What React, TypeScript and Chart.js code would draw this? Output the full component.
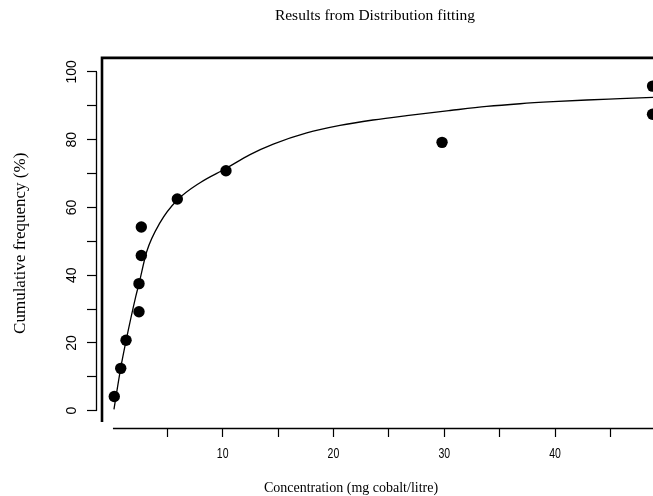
import React, { useEffect, useRef } from 'react';
import { Chart, registerables } from 'chart.js';

Chart.register(...registerables);

// Observed data (concentration, cumulative frequency %)
const OBS_X = [0.22, 0.8, 1.28, 2.45, 2.45, 2.66, 2.66, 5.91, 10.3, 29.8, 48.8, 48.8];
const OBS_Y = [4.2, 12.5, 20.8, 29.2, 37.5, 45.8, 54.2, 62.5, 70.8, 79.2, 87.5, 95.8];

// Fitted distribution curve
const CURVE_X = [0.19, 0.8, 1.28, 2.15, 2.45, 3.15, 4.35, 5.88, 7.96, 10.3, 12.47, 14.57, 17.59, 20.59, 23.57, 26.61, 30.52, 33.83, 36.84, 39.82, 42.86, 45.86, 48.84];
const CURVE_Y = [0.4, 12.6, 20.6, 33.6, 37.5, 47.0, 55.5, 62.1, 67.3, 71.5, 75.6, 78.7, 82.0, 84.2, 85.8, 87.1, 88.6, 89.8, 90.6, 91.2, 91.7, 92.1, 92.5];

// Axis ticks
const X_TICKS = [5, 10, 15, 20, 25, 30, 35, 40, 45];
const X_TICK_LABELS = ['', '10', '', '20', '', '30', '', '40', ''];
const Y_TICKS = [0, 10, 20, 30, 40, 50, 60, 70, 80, 90, 100];
const Y_TICK_LABELS = ['0', '', '20', '', '40', '', '60', '', '80', '', '100'];

// Axis ranges
const X_MIN = -1.34;
const X_MAX = 48.84;
const Y_MIN = -5.1;
const Y_MAX = 103.92;
const X_AXIS_FROM = 0.1;
const Y_AXIS_FROM = 0;
const Y_AXIS_TO = 100;

const TITLE = 'Results from Distribution fitting';
const X_LABEL = 'Concentration (mg cobalt/litre)';
const Y_LABEL = 'Cumulative frequency (%)';

const SERIF = '"Liberation Serif", "Times New Roman", serif';
const SANS = '"Liberation Sans", Arial, sans-serif';

const framePlugin = {
  id: 'framePlugin',
  afterDraw(chart: any) {
    const { ctx, chartArea } = chart;
    const xs = chart.scales.x;
    const ys = chart.scales.y;
    ctx.save();
    ctx.strokeStyle = '#000';
    ctx.fillStyle = '#000';

    // y axis line (0..100)
    ctx.lineWidth = 1.3;
    ctx.beginPath();
    ctx.moveTo(chartArea.left - 0.5, ys.getPixelForValue(Y_AXIS_FROM));
    ctx.lineTo(chartArea.left - 0.5, ys.getPixelForValue(Y_AXIS_TO));
    ctx.stroke();

    // x axis line
    ctx.lineWidth = 1.6;
    ctx.beginPath();
    ctx.moveTo(xs.getPixelForValue(X_AXIS_FROM), chartArea.bottom + 0.5);
    ctx.lineTo(chartArea.right, chartArea.bottom + 0.5);
    ctx.stroke();

    // plot frame: left and top
    ctx.lineWidth = 2.6;
    ctx.beginPath();
    ctx.moveTo(chartArea.left + 5, chartArea.bottom - 6);
    ctx.lineTo(chartArea.left + 5, chartArea.top - 0.7);
    ctx.lineTo(chartArea.right, chartArea.top - 0.7);
    ctx.stroke();

    // y tick labels, rotated
    ctx.font = `14px ${SANS}`;
    ctx.textAlign = 'center';
    ctx.textBaseline = 'middle';
    Y_TICKS.forEach((v, i) => {
      const lab = Y_TICK_LABELS[i];
      if (!lab) return;
      ctx.save();
      ctx.translate(72, ys.getPixelForValue(v));
      ctx.rotate(-Math.PI / 2);
      ctx.fillText(lab, 0, 0);
      ctx.restore();
    });

    // x tick labels, condensed
    ctx.font = `15px ${SANS}`;
    X_TICKS.forEach((v, i) => {
      const lab = X_TICK_LABELS[i];
      if (!lab) return;
      ctx.save();
      ctx.translate(xs.getPixelForValue(v), chartArea.bottom + 26);
      ctx.scale(0.7, 1);
      ctx.fillText(lab, 0, 0);
      ctx.restore();
    });

    // x axis title
    ctx.font = `14px ${SERIF}`;
    ctx.fillText(X_LABEL, 351, 488);
    ctx.restore();
  },
};

export default function App() {
  const ref = useRef<HTMLCanvasElement>(null);

  useEffect(() => {
    if (!ref.current) return;
    const chart = new Chart(ref.current, {
      type: 'scatter',
      data: {
        datasets: [
          {
            label: 'Fitted',
            data: CURVE_X.map((x, i) => ({ x, y: CURVE_Y[i] })),
            showLine: true,
            borderColor: '#000',
            borderWidth: 1.3,
            pointRadius: 0,
            cubicInterpolationMode: 'monotone',
            fill: false,
          },
          {
            label: 'Observed',
            data: OBS_X.map((x, i) => ({ x, y: OBS_Y[i] })),
            showLine: false,
            pointRadius: 5.7,
            pointStyle: 'circle',
            backgroundColor: '#000',
            borderColor: '#000',
            borderWidth: 0,
            clip: false,
          },
        ],
      } as any,
      options: {
        responsive: false,
        animation: false,
        devicePixelRatio: 1,
        layout: { padding: 0, autoPadding: false },
        plugins: {
          legend: { display: false },
          tooltip: { enabled: false },
          title: {
            display: true,
            text: TITLE,
            fullSize: false,
            color: '#000',
            font: { family: SERIF, size: 15.5, weight: 'normal' },
            padding: { top: 7, bottom: 33 },
          },
        },
        scales: {
          x: {
            type: 'linear',
            min: X_MIN,
            max: X_MAX,
            afterBuildTicks: (s: any) => {
              s.ticks = X_TICKS.map((value) => ({ value }));
            },
            afterFit: (s: any) => {
              s.height = 68;
            },
            ticks: {
              autoSkip: false,
              maxRotation: 0,
              minRotation: 0,
              callback: () => '',
            },
            grid: {
              display: true,
              drawOnChartArea: false,
              drawTicks: true,
              tickLength: 9,
              color: '#000',
              tickColor: '#000',
              tickWidth: 1.2,
            },
            border: { display: false },
          },
          y: {
            type: 'linear',
            min: Y_MIN,
            max: Y_MAX,
            afterBuildTicks: (s: any) => {
              s.ticks = Y_TICKS.map((value) => ({ value }));
            },
            afterFit: (s: any) => {
              s.width = 97;
            },
            ticks: { display: false },
            grid: {
              display: true,
              drawOnChartArea: false,
              drawTicks: true,
              tickLength: 10,
              color: '#000',
              tickColor: '#000',
              tickWidth: 1.2,
            },
            border: { display: false },
            title: {
              display: true,
              text: Y_LABEL,
              color: '#000',
              font: { family: SERIF, size: 17, weight: 'normal' },
              padding: { top: 10, bottom: 0 },
            },
          },
        },
      } as any,
      plugins: [framePlugin],
    });
    return () => chart.destroy();
  }, []);

  return (
    <div style={{ position: 'fixed', left: 0, top: 0, width: 653, height: 496, background: '#fff' }}>
      <canvas ref={ref} width={653} height={496} style={{ display: 'block' }} />
    </div>
  );
}
